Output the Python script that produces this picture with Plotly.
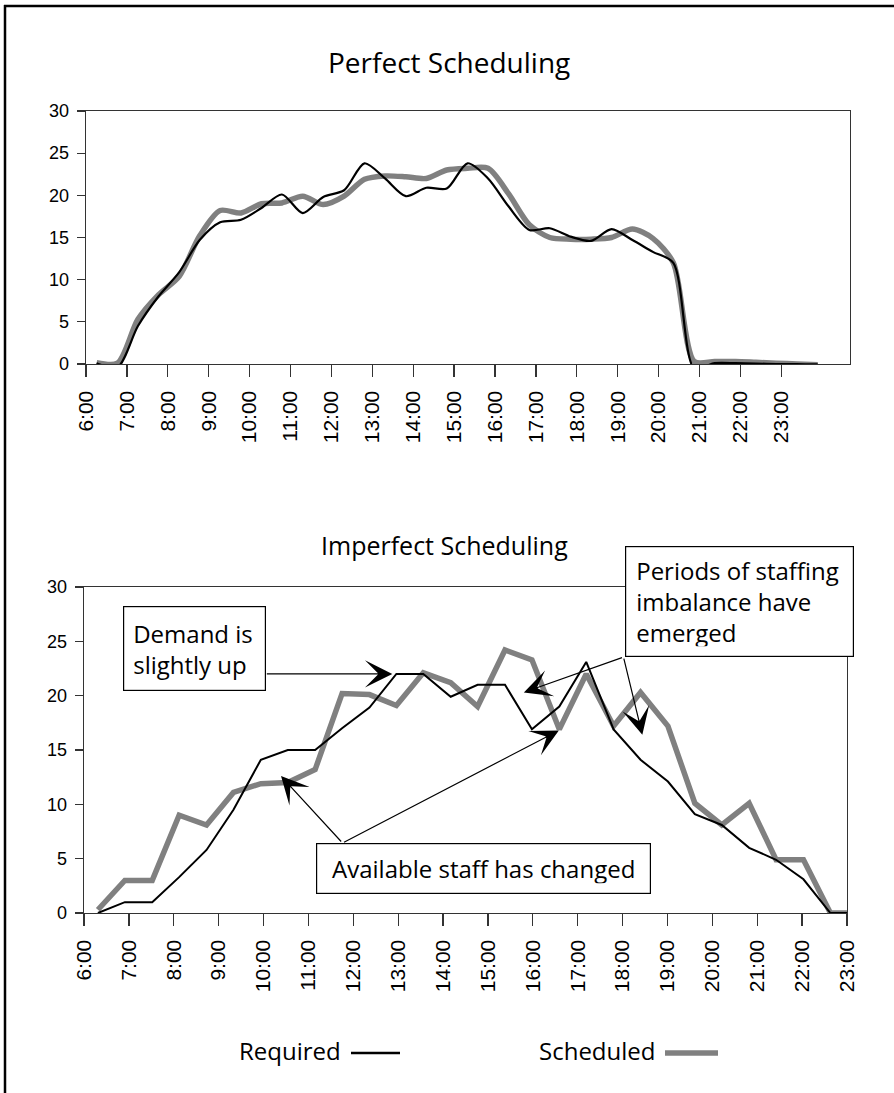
import plotly.graph_objects as go

# ---------------- data ----------------
hour_ticks = [6, 7, 8, 9, 10, 11, 12, 13, 14, 15, 16, 17, 18, 19, 20, 21, 22, 23]
hour_labels = ["6:00", "7:00", "8:00", "9:00", "10:00", "11:00", "12:00", "13:00", "14:00",
               "15:00", "16:00", "17:00", "18:00", "19:00", "20:00", "21:00", "22:00", "23:00"]
y_ticks = [0, 5, 10, 15, 20, 25, 30]

# Perfect scheduling (half-hour samples)
top_times = [6.26, 6.77, 7.27, 7.77, 8.28, 8.78, 9.28, 9.79, 10.29, 10.79, 11.30, 11.80,
             12.31, 12.81, 13.31, 13.82, 14.32, 14.82, 15.33, 15.83, 16.33, 16.84, 17.34, 17.85,
             18.35, 18.85, 19.36, 19.86, 20.36, 20.87, 21.37, 21.88, 22.38, 22.88, 23.39, 23.89]
top_required = [0.1, -0.4, 4.5, 8.0, 10.9, 14.7, 16.8, 17.1, 18.5, 20.1, 17.9, 19.8,
                20.6, 23.8, 22.0, 19.9, 20.9, 20.8, 23.8, 22.0, 18.7, 15.9, 16.1, 15.1,
                14.6, 16.0, 14.7, 13.3, 12.0, -0.5, 0.1, 0.1, 0.05, 0.0, 0.0, -0.05]
top_scheduled = [0.15, 0.1, 5.3, 8.2, 10.4, 15.2, 18.2, 17.9, 19.0, 19.1, 19.9, 18.9,
                 19.9, 21.9, 22.3, 22.2, 22.0, 23.0, 23.2, 23.2, 20.2, 16.5, 15.0, 14.8,
                 14.8, 15.0, 16.0, 14.9, 12.0, 0.3, 0.3, 0.3, 0.2, 0.1, 0.0, -0.1]

# Imperfect scheduling
bottom_times = [6.31, 6.91, 7.52, 8.12, 8.73, 9.33, 9.94, 10.54, 11.15, 11.75, 12.36, 12.96,
                13.56, 14.17, 14.77, 15.38, 15.98, 16.59, 17.19, 17.80, 18.40, 19.01, 19.61,
                20.21, 20.82, 21.42, 22.03, 22.63, 23.00]
bottom_required = [0, 1, 1, 3.3, 5.8, 9.5, 14.1, 15, 15, 17, 18.9, 22, 22, 19.9, 21, 21,
                   16.9, 19, 23.1, 16.9, 14.1, 12.1, 9.1, 8.1, 6.0, 4.9, 3.1, 0, 0]
bottom_scheduled = [0.3, 3.0, 3.0, 9.0, 8.1, 11.1, 11.9, 12.0, 13.2, 20.2, 20.1, 19.1, 22.1,
                    21.2, 19.0, 24.2, 23.3, 16.9, 22.0, 17.2, 20.3, 17.2, 10.1, 8.1, 10.1,
                    4.9, 4.9, 0, 0]

# ---------------- figure ----------------
W, H = 894, 1093
GRAY = "#808080"
AXC = "#333333"
TXT_FONT = "Open Sans"
TICK_FONT = "Liberation Sans"


def px(x):
    return x / W


def py(y):
    return 1 - y / H


fig = go.Figure()

fig.add_trace(go.Scatter(x=top_times, y=top_scheduled, mode="lines", name="Scheduled",
                         line=dict(color=GRAY, width=5.5, shape="spline", smoothing=0.8),
                         xaxis="x", yaxis="y", showlegend=False))
fig.add_trace(go.Scatter(x=top_times, y=top_required, mode="lines", name="Required",
                         line=dict(color="black", width=2.2, shape="spline", smoothing=0.8),
                         xaxis="x", yaxis="y", showlegend=False))
fig.add_trace(go.Scatter(x=bottom_times, y=bottom_scheduled, mode="lines", name="Scheduled",
                         line=dict(color=GRAY, width=5.5),
                         xaxis="x2", yaxis="y2", showlegend=False))
fig.add_trace(go.Scatter(x=bottom_times, y=bottom_required, mode="lines", name="Required",
                         line=dict(color="black", width=2),
                         xaxis="x2", yaxis="y2", showlegend=False))

xcommon = dict(tickmode="array", tickvals=hour_ticks, ticktext=hour_labels, tickangle=-90,
               ticks="outside", ticklen=12, tickwidth=1.3, tickcolor=AXC,
               showline=True, linecolor=AXC, linewidth=1.3, mirror=True,
               showgrid=False, zeroline=False, ticklabelstandoff=5, automargin=False,
               tickfont=dict(family=TICK_FONT, size=21, color="black"), fixedrange=True)
ycommon = dict(tickmode="array", tickvals=y_ticks, range=[0, 30],
               ticks="outside", ticklen=8, tickwidth=1.3, tickcolor=AXC,
               showline=True, linecolor=AXC, linewidth=1.3, mirror=True,
               showgrid=False, zeroline=False, ticklabelstandoff=4, automargin=False,
               tickfont=dict(family=TICK_FONT, size=18, color="black"), fixedrange=True)

fig.update_layout(
    width=W, height=H,
    margin=dict(l=0, r=0, t=0, b=0, pad=0, autoexpand=False),
    paper_bgcolor="white", plot_bgcolor="white",
    showlegend=False,
    xaxis=dict(domain=[px(86), px(850)], range=[6, 6 + 764 / 40.9], anchor="y", **xcommon),
    yaxis=dict(domain=[py(364), py(111)], anchor="x", **ycommon),
    xaxis2=dict(domain=[px(84), px(847)], range=[6, 23], anchor="y2", **xcommon),
    yaxis2=dict(domain=[py(913), py(587)], anchor="x2", **ycommon),
)

ann = []
# titles
ann.append(dict(text="Perfect Scheduling", x=px(449), y=py(62), xref="paper", yref="paper",
                xanchor="center", yanchor="middle", showarrow=False,
                font=dict(family=TXT_FONT, size=28, color="black")))
ann.append(dict(text="Imperfect Scheduling", x=px(444), y=py(545), xref="paper", yref="paper",
                xanchor="center", yanchor="middle", showarrow=False,
                font=dict(family=TXT_FONT, size=25, color="black")))

# arrows (data coordinates of bottom chart)
arrow_style = dict(showarrow=True, arrowhead=3, arrowsize=3.8, arrowwidth=1.2,
                   arrowcolor="black", text="", xref="x2", yref="y2", axref="x2", ayref="y2",
                   standoff=0, startstandoff=0)
ann.append(dict(x=12.87, y=22.0, ax=10.04, ay=22.0, **arrow_style))
ann.append(dict(x=10.39, y=12.6, ax=11.76, ay=6.44, **arrow_style))
ann.append(dict(x=16.58, y=16.8, ax=11.76, ay=6.44, **arrow_style))
ann.append(dict(x=15.80, y=20.3, ax=18.02, ay=23.55, **arrow_style))
ann.append(dict(x=18.44, y=16.4, ax=18.02, ay=23.55, **arrow_style))

box_font = dict(family=TXT_FONT, size=24, color="black")
box_common = dict(xref="paper", yref="paper", xanchor="left", yanchor="top", showarrow=False,
                  bgcolor="white", bordercolor="black", borderwidth=1.2, font=box_font)
ann.append(dict(text="Demand is<br>slightly up", x=px(123), y=py(606), align="left",
                width=123, height=65, borderpad=9, **box_common))
ann.append(dict(text="Available staff has changed", x=px(316), y=py(843), align="center",
                width=313, height=29, borderpad=10, **box_common))
ann.append(dict(text="Periods of staffing<br>imbalance have<br>emerged", x=px(625), y=py(546),
                align="left", width=207, height=89, borderpad=10, **box_common))

# legend
leg_font = dict(family=TXT_FONT, size=24, color="black")
ann.append(dict(text="Required", x=px(343), y=py(1050), xref="paper", yref="paper",
                xanchor="right", yanchor="middle", showarrow=False, font=leg_font))
ann.append(dict(text="Scheduled", x=px(657), y=py(1050), xref="paper", yref="paper",
                xanchor="right", yanchor="middle", showarrow=False, font=leg_font))
fig.update_layout(annotations=ann)

shapes = [
    dict(type="line", xref="paper", yref="paper", x0=px(351), x1=px(400), y0=py(1053), y1=py(1053),
         line=dict(color="black", width=2.5)),
    dict(type="line", xref="paper", yref="paper", x0=px(665), x1=px(718), y0=py(1053), y1=py(1053),
         line=dict(color=GRAY, width=5.5)),
    # page frame (top and left)
    dict(type="line", xref="paper", yref="paper", x0=px(4), x1=1, y0=py(6), y1=py(6),
         line=dict(color="black", width=2.5)),
    dict(type="line", xref="paper", yref="paper", x0=px(5), x1=px(5), y0=0, y1=py(5),
         line=dict(color="black", width=2.5)),
]
fig.update_layout(shapes=shapes)

fig.write_html(
    "out.html",
    config={"displayModeBar": False, "staticPlot": True},
    post_script="document.body.style.margin='0px';document.body.style.padding='0px';"
                "document.body.style.overflow='hidden';"
                "document.documentElement.style.overflow='hidden';",
)
